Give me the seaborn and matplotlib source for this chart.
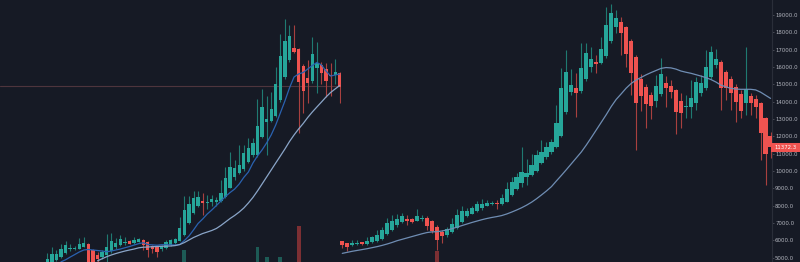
import numpy as np
import pandas as pd
import matplotlib
matplotlib.use("Agg")
import matplotlib.pyplot as plt
import seaborn as sns
from matplotlib.patches import Rectangle

# ---------------- data: left chart ----------------
left_open = [4700, 4750, 4870, 5020, 5250, 5490, 5500, 5520, 5635, 5790,
             5445, 5140, 5020, 5170, 5370, 5635, 5730, 5830, 5960, 5830,
             5905, 6020, 5880, 5675, 5600, 5485, 5540, 5715, 5830, 5980,
             6310, 7020, 7560, 7980, 8255, 8180, 8195, 8240, 8290, 8520,
             9040, 9640, 9900, 10100, 10540, 10925, 10925, 11945, 12830, 12905,
             13175, 14100, 15400, 16400, 17115, 17020, 16060, 15350, 15210, 15925,
             16120, 15870, 15540, 15540, 15640]
left_high = [5250, 5600, 5450, 5790, 5980, 5790, 5700, 6120, 6210, 5850,
             5500, 5330, 5450, 6370, 6400, 6120, 6290, 6210, 6050, 6180,
             6120, 6100, 5950, 5750, 5700, 5750, 6000, 6100, 6150, 7365,
             8560, 8560, 8850, 8850, 8715, 8600, 8600, 8500, 9480, 10250,
             11115, 10635, 11485, 11485, 11890, 11900, 14140, 14715, 14300, 14580,
             15985, 17900, 18750, 18425, 18425, 17100, 16200, 16400, 17750, 17460,
             16300, 16250, 16215, 16445, 15700]
left_low = [4650, 4700, 4800, 4980, 5200, 5400, 5450, 5480, 5600, 4600,
            4500, 4700, 4900, 4750, 5300, 5500, 5700, 5730, 5770, 5800,
            5880, 5445, 5060, 5250, 5060, 5400, 5500, 5650, 5800, 5950,
            6250, 6950, 7500, 7900, 7465, 7800, 8000, 8000, 8200, 8450,
            9000, 9500, 9850, 10000, 10450, 10800, 10800, 11900, 10900, 12800,
            13100, 14000, 15300, 16300, 16800, 12175, 13365, 13900, 15100, 14485,
            15020, 14255, 14300, 15000, 13945]
left_close = [4910, 5210, 5210, 5485, 5715, 5560, 5580, 5790, 5865, 4750,
              4700, 4910, 5330, 5635, 5980, 5865, 6080, 5905, 5810, 6020,
              6060, 5750, 5470, 5485, 5310, 5675, 5925, 6020, 6095, 6695,
              7750, 8100, 8430, 8520, 8175, 8240, 8390, 8330, 8750, 9580,
              10215, 10160, 10330, 11025, 11310, 11600, 12600, 13710, 12985, 13560,
              15020, 16655, 17500, 17800, 16885, 15155, 14635, 15060, 16735, 16250,
              15675, 15210, 15480, 15730, 14865]
left_ma_fast = [np.nan, np.nan, np.nan, 4760, 4880, 5035, 5180, 5330, 5445, 5475,
                5445, 5415, 5385, 5345, 5385, 5445, 5500, 5575, 5645, 5730,
                5810, 5865, 5760, 5740, 5720, 5750, 5750, 5740, 5730, 5760,
                5990, 6250, 6600, 6975, 7230, 7520, 7750, 8010, 8270, 8530,
                8760, 8960, 9250, 9630, 9940, 10460, 10870, 11215, 11620, 12080,
                12660, 13350, 14040, 14790, 15425, 15600, 15685, 15885, 16090, 16260,
                16120, 15770, 15480, 15540, 15600]
left_ma_slow = [np.nan, np.nan, np.nan, np.nan, np.nan, np.nan, np.nan, np.nan, np.nan, np.nan,
                np.nan, 4820, 4940, 5058, 5155, 5240, 5315, 5385, 5445, 5500,
                5570, 5605, 5615, 5635, 5645, 5660, 5665, 5675, 5700, 5760,
                5875, 6020, 6165, 6280, 6395, 6480, 6570, 6685, 6860, 7060,
                7260, 7435, 7635, 7865, 8155, 8475, 8850, 9250, 9655, 10060,
                10465, 10865, 11270, 11700, 12080, 12425, 12740, 13090, 13405, 13695,
                13980, 14270, 14530, 14735, 14935]
left_volume = [0, 0, 0, 0, 0, 0, 0, 0, 0, 0,
               0, 0, 0, 0, 0, 0, 0, 0, 0, 0,
               0, 0, 0, 0, 0, 0, 0, 0, 0, 0,
               12, 0, 0, 0, 0, 0, 0, 0, 0, 0,
               0, 0, 0, 0, 0, 0, 15, 0, 5, 0,
               0, 5, 0, 0, 0, 36, 0, 0, 0, 0,
               0, 0, 0, 0, 0]
left_price_line = 14900

# ---------------- data: right chart ----------------
right_open = [5950, 5830, 5720, 5780, 5880, 5780, 5900, 5960, 6080, 6350,
              6600, 6870, 7040, 7230, 7210, 7120, 7240, 7290, 7100, 6790,
              6470, 6310, 6480, 6700, 7080, 7400, 7540, 7700, 7890, 8000,
              8080, 8175, 8080, 8230, 8620, 8980, 9290, 9640, 9770, 10025,
              10480, 10790, 11080, 11370, 12020, 13400, 14560, 14790, 14640, 15300,
              16030, 16290, 16250, 16640, 17520, 18290, 18580, 18290, 17520, 16600,
              15290, 14830, 14390, 14040, 14445, 15060, 14905, 14670, 14060, 13680,
              13680, 13905, 14485, 14770, 15440, 16120, 16310, 15730, 15290, 14865,
              14445, 13945, 14345, 14140, 13945, 13075, 12020]
right_high = [5980, 5850, 6000, 6000, 5920, 6200, 6270, 6600, 6790, 7310,
              7460, 7500, 7560, 7460, 7280, 7800, 7460, 7400, 7200, 6900,
              6600, 6750, 7300, 7790, 7980, 7850, 8000, 8290, 8370, 8330,
              8250, 8330, 8690, 9380, 9670, 9870, 11400, 10680, 10980, 11210,
              11790, 11690, 11850, 13800, 15930, 16980, 15900, 15680, 17400, 17370,
              17175, 16700, 17750, 19480, 19640, 19290, 18900, 18350, 17600, 16700,
              15600, 15000, 14550, 15540, 16540, 15500, 15250, 14750, 14485, 14380,
              15250, 15400, 15540, 16980, 17230, 17020, 16400, 15800, 15500, 15000,
              14700, 17175, 14520, 14400, 14000, 13100, 12250]
right_low = [5580, 5400, 5690, 5750, 5740, 5750, 5850, 5900, 6050, 6300,
             6550, 6800, 7000, 6890, 6980, 7090, 7140, 6600, 6400, 5440,
             5830, 6200, 6400, 6650, 7000, 7350, 7500, 7650, 7750, 7970,
             8050, 7830, 8050, 8200, 8550, 8900, 9100, 9200, 9700, 9950,
             10400, 10700, 11000, 11300, 11950, 13300, 14400, 13140, 14500, 15200,
             15730, 15680, 16200, 16500, 17400, 17950, 16700, 16020, 14385, 11215,
             13480, 12500, 13020, 13710, 14300, 13710, 14200, 12135, 12465, 13040,
             13040, 13520, 14350, 14700, 15300, 15925, 13520, 14100, 13520, 12845,
             13040, 13230, 13230, 13040, 10635, 9195, 10730]
right_close = [5720, 5600, 5860, 5850, 5780, 5960, 6180, 6310, 6600, 6980,
               7130, 7250, 7420, 7120, 7050, 7420, 7300, 6850, 6560, 6020,
               6250, 6640, 6945, 7460, 7710, 7710, 7890, 8110, 8110, 8170,
               8175, 8080, 8430, 8960, 9370, 9670, 9960, 9900, 10330, 10930,
               11120, 11370, 11680, 12750, 14810, 15730, 14960, 14520, 15930, 16800,
               16450, 16200, 17020, 18420, 19100, 18810, 17980, 16750, 15640, 13900,
               14330, 13870, 13750, 14905, 15600, 14770, 14580, 13420, 13330, 13750,
               14195, 15155, 15060, 16020, 16885, 16450, 14770, 14770, 14485, 14000,
               13465, 14715, 13945, 13710, 12210, 10965, 11372.3]
right_ma = [5250, 5310, 5370, 5420, 5470, 5520, 5580, 5640, 5710, 5790,
            5880, 5980, 6060, 6140, 6220, 6300, 6380, 6450, 6490, 6500,
            6540, 6600, 6670, 6760, 6850, 6940, 7030, 7110, 7190, 7260,
            7320, 7370, 7430, 7520, 7630, 7750, 7880, 8030, 8200, 8400,
            8620, 8850, 9100, 9430, 9750, 10080, 10420, 10760, 11100, 11500,
            11930, 12370, 12810, 13250, 13720, 14130, 14450, 14780, 15050, 15250,
            15400, 15550, 15680, 15800, 15920, 15970, 15950, 15880, 15770, 15700,
            15640, 15560, 15480, 15390, 15280, 15140, 14960, 14860, 14770, 14730,
            14715, 14715, 14715, 14680, 14550, 14370, 14190]
right_volume = [0, 0, 0, 0, 0, 0, 0, 0, 0, 0,
                0, 0, 0, 0, 0, 0, 0, 0, 0, 11,
                0, 0, 0, 0, 0, 0, 0, 0, 0, 0,
                0, 0, 0, 0, 0, 0, 0, 0, 0, 0,
                0, 0, 0, 0, 0, 0, 0, 0, 0, 0,
                0, 0, 0, 0, 0, 0, 0, 0, 0, 0,
                0, 0, 0, 0, 0, 0, 0, 0, 0, 0,
                0, 0, 0, 0, 0, 0, 0, 0, 0, 0,
                0, 0, 0, 0, 0, 0, 0]
y_ticks = [5000, 6000, 7000, 8000, 9000, 10000, 11000, 12000, 13000, 14000,
           15000, 16000, 17000, 18000, 19000, 20000]

# ---------------- style ----------------
sns.set_theme(style="dark")
plt.rcParams["font.family"] = ["DejaVu Sans"]

BG = "#161a25"
UP, DOWN = "#26a69a", "#ef5350"
WICK_UP, WICK_DOWN = "#1f7a71", "#a8403f"
VOL_UP, VOL_DOWN = "#1d5b56", "#7c2f33"
TXT = "#b2b5be"
YLIM = (4752, 19867)
FS = 3.9

W, H = 800, 262
fig = plt.figure(figsize=(W / 100, H / 100), dpi=100, facecolor=BG)


def make_axes(rect, xlim):
    axv = fig.add_axes(rect)
    ax = fig.add_axes(rect)
    axv.set_facecolor(BG)
    ax.set_facecolor("none")
    for a in (axv, ax):
        a.set_xlim(*xlim)
        a.grid(False)
        for s in a.spines.values():
            s.set_visible(False)
        a.set_xticks([])
        a.set_yticks([])
    axv.set_ylim(0, H)
    ax.set_ylim(*YLIM)
    return ax, axv


def draw_candles(ax, axv, o, h, l, c, vol, width, vwidth):
    o, h, l, c, vol = map(lambda a: np.asarray(a, float), (o, h, l, c, vol))
    x = np.arange(len(o))
    up = c >= o
    axv.bar(x, vol, vwidth, color=np.where(up, VOL_UP, VOL_DOWN), linewidth=0)
    ax.vlines(x, l, h, colors=np.where(up, WICK_UP, WICK_DOWN), linewidth=0.8, zorder=2)
    bottom = np.minimum(o, c)
    height = np.maximum(np.abs(c - o), 60)
    ax.bar(x, height, width, bottom=bottom, color=np.where(up, UP, DOWN),
           linewidth=0, zorder=3)


# left chart
nL = len(left_open)
axL, axLv = make_axes([0, 0, 341 / W, 1], (-10.35, 64.28))
axL.axhline(left_price_line, color="#4e353d", linewidth=0.8, zorder=1)
draw_candles(axL, axLv, left_open, left_high, left_low, left_close, left_volume, 0.72, 0.85)
dfL = pd.DataFrame({"i": np.arange(nL), "fast": left_ma_fast, "slow": left_ma_slow})
sns.lineplot(data=dfL, x="i", y="fast", ax=axL, color="#2a62b0", linewidth=0.9, zorder=4)
sns.lineplot(data=dfL, x="i", y="slow", ax=axL, color="#8aa5c8", linewidth=0.9, zorder=4)
axL.set_xlim(-10.35, 64.28)
axL.set_ylim(*YLIM)
axL.set_xlabel("")
axL.set_ylabel("")

# right chart
nR = len(right_open)
axR, axRv = make_axes([340 / W, 0, (772 - 340) / W, 1], (-0.46, 86.29))
axRv.set_facecolor("none")
draw_candles(axR, axRv, right_open, right_high, right_low, right_close, right_volume, 0.84, 0.95)
dfR = pd.DataFrame({"i": np.arange(nR), "ma": right_ma})
sns.lineplot(data=dfR, x="i", y="ma", ax=axR, color="#6f8db3", linewidth=0.9, zorder=4)
axR.set_xlim(-0.46, 86.29)
axR.set_ylim(*YLIM)
axR.set_xlabel("")
axR.set_ylabel("")

axR.spines["right"].set_visible(True)
axR.spines["right"].set_color("#2a2e39")
axR.spines["right"].set_linewidth(0.8)
axR.yaxis.tick_right()
vis = [t for t in y_ticks if YLIM[0] <= t <= YLIM[1]]
axR.set_yticks(vis)
axR.set_yticklabels([f"{t}.0" for t in vis])
axR.tick_params(axis="y", which="both", right=True, length=1.5, width=0.6,
                color="#50535e", labelsize=FS, labelcolor=TXT, pad=0.7)
# top label partially cut off, as in the reference
for t in y_ticks:
    if t > YLIM[1]:
        axR.annotate(f"{t}.0", xy=(1, t), xycoords=("axes fraction", "data"),
                     xytext=(2.2, 0), textcoords="offset points", ha="left", va="center",
                     fontsize=FS, color=TXT, annotation_clip=False)

# last price label
last = right_close[-1]
ydisp = axR.transData.transform((0, last))[1]
ypx = ydisp / fig.dpi * 100
fig.patches.append(Rectangle((771 / W, (ypx - 4.6) / H), 29 / W, 9.2 / H,
                             transform=fig.transFigure, facecolor=DOWN, edgecolor="none"))
fig.text(774.5 / W, ypx / H, f"{last:.1f}", color="white", fontsize=FS,
         ha="left", va="center")

fig.savefig("out.png", dpi=100, facecolor=BG)
